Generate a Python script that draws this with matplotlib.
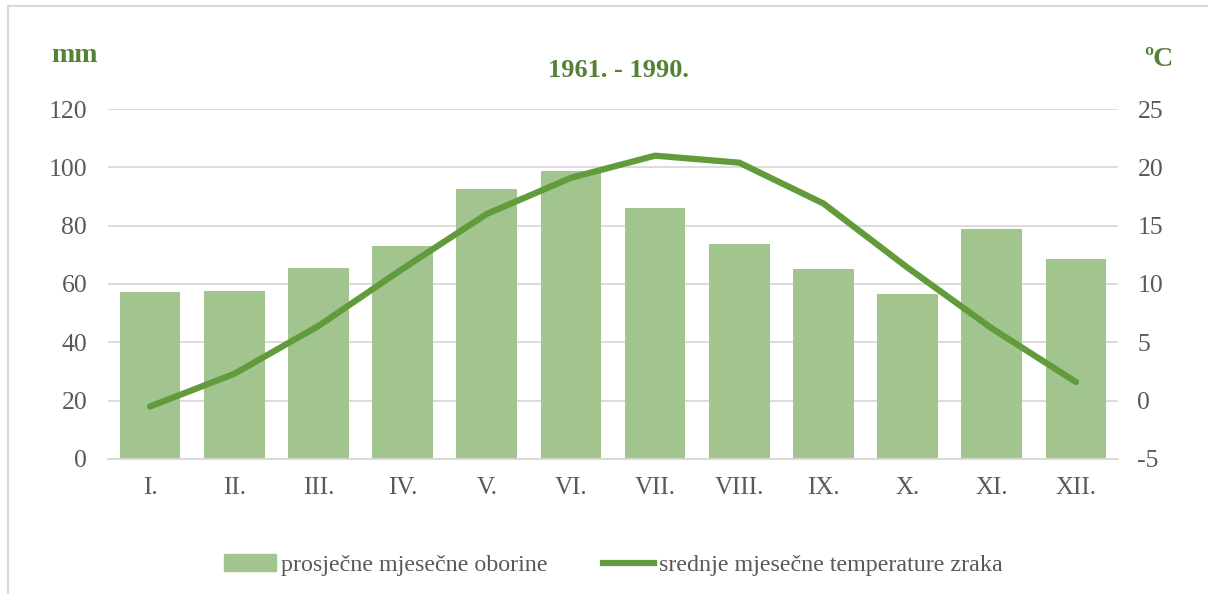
import matplotlib.pyplot as plt
import numpy as np
from matplotlib.lines import Line2D
from matplotlib.patches import Patch

months = ['I.', 'II.', 'III.', 'IV.', 'V.', 'VI.', 'VII.', 'VIII.', 'IX.', 'X.', 'XI.', 'XII.']
oborine = [57.3, 57.5, 65.5, 73.0, 92.4, 98.6, 85.9, 73.8, 65.1, 56.6, 78.9, 68.5]
temperatura = [-0.5, 2.3, 6.4, 11.3, 16.0, 19.1, 21.0, 20.4, 16.9, 11.4, 6.2, 1.6]

bar_col = '#a2c48f'
line_col = '#629b3c'
title_col = '#548235'
text_col = '#595959'

plt.rcParams['font.family'] = ['Liberation Serif', 'DejaVu Serif']
plt.rcParams['axes.unicode_minus'] = False

fig = plt.figure(figsize=(12.08, 5.95), dpi=100)
ax = fig.add_axes([0.0894, 0.2286, 0.8361, 0.5882])
ax2 = ax.twinx()

x = np.arange(len(months))
ax.bar(x, oborine, width=0.72, color=bar_col, zorder=2)
ax2.plot(x, temperatura, color=line_col, lw=4.5, solid_capstyle='round', zorder=3)

ax.set_xlim(-0.5, 11.5)
ax.set_ylim(0, 120)
ax.set_yticks(range(0, 121, 20))
ax2.set_ylim(-5, 25)
ax2.set_yticks(range(-5, 26, 5))

ax.set_xticks(x)
ax.set_xticklabels(months)
ax.yaxis.grid(True, color='#d9d9d9', lw=1.3, zorder=0)
ax.set_axisbelow(True)

for a in (ax, ax2):
    for s in a.spines.values():
        s.set_visible(False)
    a.tick_params(length=0, labelsize=18.5, labelcolor=text_col)
ax.tick_params(axis='x', labelsize=18)
ax.spines['bottom'].set_visible(True)
ax.spines['bottom'].set_color('#d9d9d9')
ax.spines['bottom'].set_linewidth(1.3)
ax.tick_params(axis='x', pad=13)
ax.tick_params(axis='y', pad=15)
ax2.tick_params(axis='y', pad=14)

fig.text(0.512, 0.882, '1961. - 1990.', ha='center', va='center',
         fontsize=19, fontweight='bold', color=title_col)
fig.text(0.062, 0.907, 'mm', ha='center', va='center',
         fontsize=20, fontweight='bold', color=title_col)
fig.text(0.959, 0.900, 'ºC', ha='center', va='center',
         fontsize=20, fontweight='bold', color=title_col)

handles = [Patch(color=bar_col, label='prosječne mjesečne oborine'),
           Line2D([0], [0], color=line_col, lw=4.5, label='srednje mjesečne temperature zraka')]
leg = fig.legend(handles=handles, loc='center', bbox_to_anchor=(0.508, 0.05), ncol=2,
                 frameon=False, fontsize=17.3, handlelength=2.15, handletextpad=0.2,
                 columnspacing=2.3)
for t in leg.get_texts():
    t.set_color(text_col)

# outer frame of the chart area
fig.add_artist(Line2D([0.0066, 1.0], [0.990, 0.990], transform=fig.transFigure, color='#d9d9d9', lw=1.5))
fig.add_artist(Line2D([0.0066, 0.0066], [0.003, 0.990], transform=fig.transFigure, color='#d9d9d9', lw=1.5))

fig.savefig('out.png', dpi=100)
